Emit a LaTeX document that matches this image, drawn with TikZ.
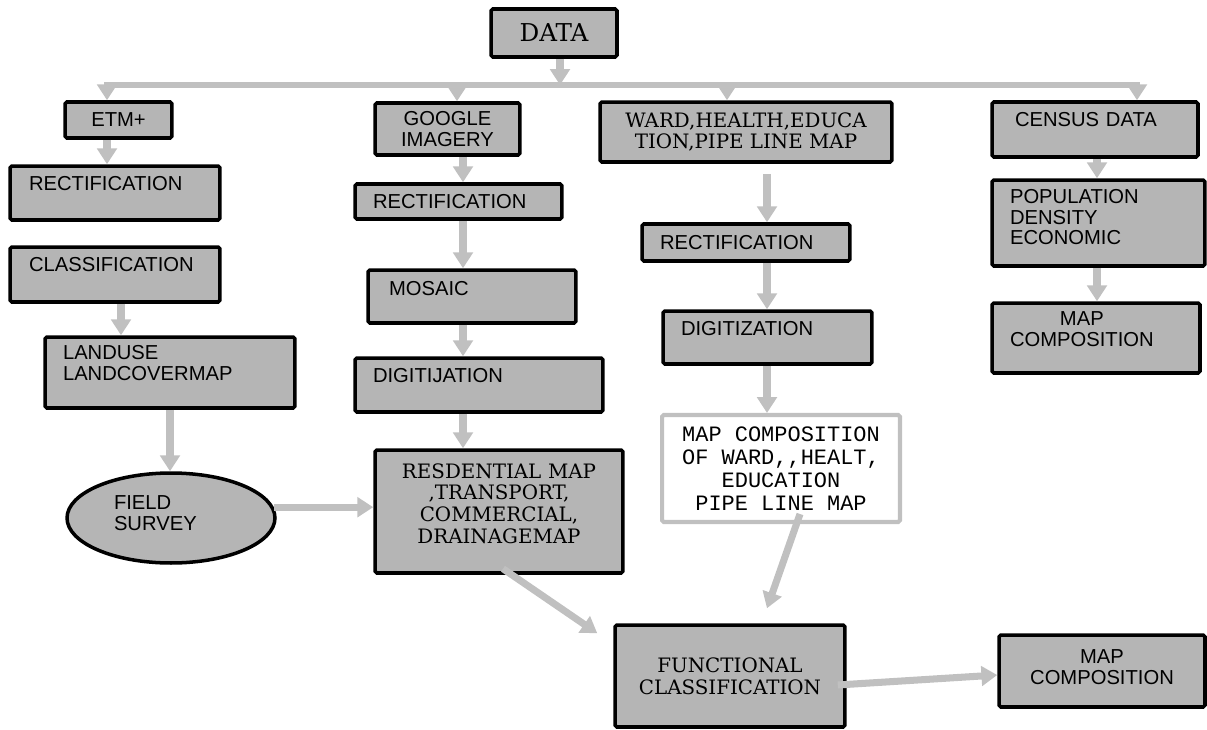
\documentclass[tikz,border=0pt]{standalone}
\usepackage{fontspec}
\setmainfont{Liberation Sans}
\newfontfamily\slabfont{DejaVu Serif}
\newfontfamily\typefont{Liberation Mono}
\usetikzlibrary{arrows.meta,shapes.geometric}
\definecolor{boxgray}{RGB}{181,181,181}
\definecolor{flowgray}{RGB}{192,192,192}

\begin{document}
\begin{tikzpicture}[x=.02cm,y=-.02cm,
  box/.style={draw,line width=2pt,fill=boxgray,rounded corners=1pt,inner sep=0pt,font=\fontsize{11.5}{11.8}\selectfont},
  slab/.style={box,font=\slabfont\fontsize{11.3}{12.3}\selectfont,align=center},
  lift/.style={align=left,text height=8.2pt,text depth=#1},
  flow/.style={draw=flowgray,line width=4pt,-{Triangle[width=11pt,length=9pt]}}]
\useasboundingbox (0,0) rectangle (1207,730);
% top
\node[slab,minimum width=2.52cm,minimum height=.96cm,font=\slabfont\fontsize{14}{16}\selectfont] (data) at (554,33) {DATA};
% satellite column
\node[box,minimum width=2.14cm,minimum height=.72cm] (etm) at (118.5,120) {ETM+};
\node[box,minimum width=4.2cm,minimum height=1.08cm,text width=3.44cm,lift=11.4pt] (etmrect) at (115,193) {RECTIFICATION};
\node[box,minimum width=4.2cm,minimum height=1.1cm,text width=3.44cm,lift=12pt] (etmclass) at (115,274.5) {CLASSIFICATION};
\node[box,minimum width=5cm,minimum height=1.42cm,text width=4.28cm,lift=23.2pt] (landuse) at (170,372.5) {LANDUSE\\LANDCOVERMAP};
\node[box,ellipse,minimum width=4.16cm,minimum height=1.8cm,text width=2.28cm,lift=17.5pt] (survey) at (171,518) {FIELD\\SURVEY};
% google column
\node[box,minimum width=2.9cm,minimum height=1.04cm,align=center] (google) at (447.5,129) {GOOGLE\\IMAGERY};
\node[box,minimum width=4.14cm,minimum height=.7cm,text width=3.42cm,lift=0pt] (grect) at (458.5,201.5) {RECTIFICATION};
\node[box,minimum width=4.16cm,minimum height=1.06cm,text width=3.32cm,lift=9.7pt] (mosaic) at (472,296.5) {MOSAIC};
\node[box,minimum width=4.96cm,minimum height=1.08cm,text width=4.24cm,lift=11.4pt] (gdigit) at (479,385) {DIGITIJATION};
\node[slab,minimum width=4.96cm,minimum height=2.46cm,text width=4.6cm,text height=8.2pt,text depth=46pt] (resmap) at (499,511.5) {RESDENTIAL MAP\\,TRANSPORT,\\COMMERCIAL,\\DRAINAGEMAP};
% ward column
\node[slab,minimum width=5.84cm,minimum height=1.2cm] (ward) at (746,132) {WARD,HEALTH,EDUCA\\TION,PIPE LINE MAP};
\node[box,minimum width=4.16cm,minimum height=.74cm,text width=3.44cm,lift=0pt] (wrect) at (746,242.5) {RECTIFICATION};
\node[box,minimum width=4.18cm,minimum height=1.06cm,text width=3.46cm,lift=10.8pt] (wdigit) at (767.5,337.5) {DIGITIZATION};
\node[box,draw=flowgray,fill=white,line width=2.3pt,minimum width=4.76cm,minimum height=2.14cm,align=center,font=\typefont\fontsize{12.5}{13}\selectfont] (wardmap) at (781,468.5) {MAP COMPOSITION\\OF WARD,,HEALT,\\EDUCATION\\PIPE LINE MAP};
% census column
\node[box,minimum width=4.12cm,minimum height=1.1cm,text width=3.2cm,lift=12pt] (census) at (1095,129.5) {CENSUS DATA};
\node[box,minimum width=4.26cm,minimum height=1.72cm,text width=3.54cm,lift=30.4pt] (popul) at (1098.5,223) {POPULATION\\DENSITY\\ECONOMIC};
\node[box,minimum width=4.16cm,minimum height=1.4cm,text width=3.44cm,lift=22.6pt] (censmap) at (1096,338) {\begin{tabular}[t]{@{}c@{}}MAP\\COMPOSITION\end{tabular}};
% bottom
\node[slab,minimum width=4.6cm,minimum height=2.04cm] (funcls) at (730,676) {FUNCTIONAL\\CLASSIFICATION};
\node[box,minimum width=4.12cm,minimum height=1.44cm,text width=3.8cm,align=center,text height=8.2pt,text depth=16.9pt] (finalmap) at (1102,671) {MAP\\COMPOSITION};

% connectors
\coordinate (b1) at (107,85);
\coordinate (b2) at (457,85);
\coordinate (b3) at (727,85);
\coordinate (b4) at (1137,85);
\coordinate (gcol) at (463,85);
\coordinate (wcol) at (767,85);
\coordinate (ccol) at (1097,85);
\draw[flowgray,line width=3.4pt,line cap=rect] (b1) -- (b4);
\draw[flow] ([xshift=.12cm]data.south) -- ([xshift=.12cm]data.south |- b1);
\foreach \b/\n in {b1/etm,b2/google,b3/ward,b4/census}
  \draw[flow] (\b) -- (\b |- \n.north);
\draw[flow] (etm.south -| b1) -- (b1 |- etmrect.north);
\draw[flow] ([xshift=.12cm]etmclass.south) -- ([xshift=.12cm]etmclass.south |- landuse.north);
\draw[flow] (landuse.south) -- (landuse.south |- survey.north);
\draw[flow] (survey.6) -- (survey.6 -| resmap.west);
\foreach \a/\b in {google/grect,grect/mosaic,mosaic/gdigit,gdigit/resmap}
  \draw[flow] (\a.south -| gcol) -- (gcol |- \b.north);
\draw[flow,shorten <=5.7pt] (ward.south -| wcol) -- (wcol |- wrect.north);
\foreach \a/\b in {wrect/wdigit,wdigit/wardmap}
  \draw[flow] (\a.south -| wcol) -- (wcol |- \b.north);
\foreach \a/\b in {census/popul,popul/censmap}
  \draw[flow] (\a.south -| ccol) -- (ccol |- \b.north);
\draw[flow] ([xshift=.08cm,yshift=.12cm]resmap.south) -- ([xshift=-.32cm,yshift=-.2cm]funcls.north west);
\draw[flow] ([xshift=.38cm,yshift=.2cm]wardmap.south) -- ([xshift=.74cm,yshift=.3cm]funcls.north);
\draw[flow] ([xshift=-.18cm,yshift=-.18cm]funcls.east) -- ([yshift=-.08cm]finalmap.west);
\end{tikzpicture}
\end{document}
